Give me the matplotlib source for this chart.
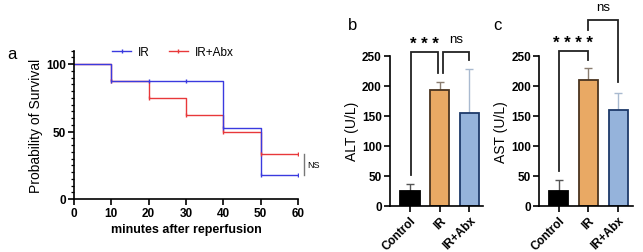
import matplotlib
matplotlib.use("Agg")
import matplotlib.pyplot as plt
from matplotlib.ticker import MultipleLocator
from matplotlib.lines import Line2D

plt.rcParams['font.family'] = ['Liberation Sans', 'DejaVu Sans']

# ---- data ----
times = [0, 10, 20, 30, 40, 50, 60]
surv_ir = [100, 87.5, 87.5, 87.5, 52.5, 17.5, 17.5]
surv_abx = [100, 87.5, 75, 62.5, 50, 33.3, 33.3]
groups = ["Control", "IR", "IR+Abx"]
alt_mean = [25, 193, 155]
alt_err = [12, 13, 73]
ast_mean = [24, 210, 159]
ast_err = [19, 19, 29]

W, H = 643, 253
fig = plt.figure(figsize=(W / 100, H / 100), dpi=100)

def fr(l, t, r, b):
    return [l / W, 1 - b / H, (r - l) / W, (b - t) / H]

BLUE = '#3a3adf'
RED = '#e8383a'

# ---- panel a ----
ax = fig.add_axes(fr(74, 51.5, 298, 200))
ax.step(times, surv_abx, where='post', color=RED, lw=1.0)
ax.step(times, surv_ir, where='post', color=BLUE, lw=1.0)
ax.plot(times[1:], surv_abx[1:], ls='none', marker='|', ms=3, mew=1.0, color=RED)
ax.plot(times[1:], surv_ir[1:], ls='none', marker='|', ms=3, mew=1.0, color=BLUE)
ax.set_xlim(0, 60)
ax.set_ylim(0, 110)
ax.set_xticks(times)
ax.set_yticks([0, 50, 100])
ax.yaxis.set_minor_locator(MultipleLocator(5))
for s in ['top', 'right']:
    ax.spines[s].set_visible(False)
for s in ['left', 'bottom']:
    ax.spines[s].set_linewidth(1.2)
ax.tick_params(axis='both', which='major', length=4, width=1.2, labelsize=8.5, pad=2)
ax.tick_params(axis='y', which='minor', length=2, width=0.9)
for lab in ax.get_xticklabels() + ax.get_yticklabels():
    lab.set_fontweight('bold')
ax.set_xlabel('minutes after reperfusion', fontsize=9, fontweight='bold', labelpad=3)
ax.set_ylabel('Probability of Survival', fontsize=10, labelpad=2)
handles = [Line2D([0], [0], color=BLUE, lw=1.0, marker='|', ms=3),
           Line2D([0], [0], color=RED, lw=1.0, marker='|', ms=3)]
ax.legend(handles, ['IR', 'IR+Abx'], ncol=2, frameon=False, fontsize=8.5,
          loc='center left', bbox_to_anchor=(0.17, 0.99), handlelength=1.6,
          handletextpad=0.6, columnspacing=1.6, borderpad=0, borderaxespad=0)
# NS bracket
ax.plot([61.5, 61.5], [surv_abx[-1], surv_ir[-1]], color='#777777', lw=1.0, clip_on=False)
ax.text(62.5, (surv_abx[-1] + surv_ir[-1]) / 2, 'NS', fontsize=6.5, va='center', ha='left')

fig.text(12 / W, 1 - 55 / H, 'a', fontsize=12, ha='center', va='center')
fig.text(353 / W, 1 - 25 / H, 'b', fontsize=12, ha='center', va='center')
fig.text(497 / W, 1 - 25 / H, 'c', fontsize=12, ha='center', va='center')

fills = ['#000000', '#E9A964', '#95B3DB']
edges = ['#000000', '#4a3420', '#1e3a6a']
errc = ['#555555', '#8a7d70', '#a9bad0']


def bar_panel(box, means, errs, ylabel, xlim):
    a = fig.add_axes(fr(*box))
    x = list(range(len(groups)))
    a.bar(x, means, width=0.64, color=fills, edgecolor=edges, linewidth=1.3, zorder=2)
    for i in x:
        a.errorbar(i, means[i], yerr=[[0], [errs[i]]], color=errc[i], capsize=3,
                   elinewidth=1.0, capthick=1.0, zorder=1)
    a.set_xlim(*xlim)
    a.set_ylim(0, 250)
    a.set_yticks([0, 50, 100, 150, 200, 250])
    a.set_xticks(x)
    a.set_xticklabels(groups, rotation=45, ha='right', rotation_mode='anchor',
                      fontsize=8, fontweight='bold')
    for lab in a.get_yticklabels():
        lab.set_fontweight('bold')
    a.tick_params(axis='both', length=4, width=1.2, labelsize=8.5, pad=2)
    for s in ['top', 'right']:
        a.spines[s].set_visible(False)
    for s in ['left', 'bottom']:
        a.spines[s].set_linewidth(1.2)
    a.set_ylabel(ylabel, fontsize=10, labelpad=2)
    return a


def bracket(a, x1, x2, y1, y2, ytop, text, ty, fs, fw='normal'):
    a.plot([x1, x1, x2, x2], [y1, ytop, ytop, y2], color='#222222', lw=1.3,
           clip_on=False, solid_joinstyle='miter')
    a.text((x1 + x2) / 2, ty, text, ha='center', va='center', fontsize=fs,
           fontweight=fw, clip_on=False)


ab = bar_panel((390, 56.7, 483, 206.7), alt_mean, alt_err, 'ALT (U/L)', (-0.672, 2.454))
bracket(ab, 0.02, 0.95, 52, 222, 257, '* * *', 271, 12, 'bold')
bracket(ab, 1.1, 2.0, 222, 243, 257, 'ns', 278, 9.5)

ac = bar_panel((539.3, 56.7, 633, 206.7), ast_mean, ast_err, 'AST (U/L)', (-0.645, 2.5))
bracket(ac, 0.0, 1.0, 58, 243, 258, '* * * *', 272, 12, 'bold')
bracket(ac, 0.99, 2.0, 293, 206, 310, 'ns', 331, 9.5)

fig.savefig('out.png', dpi=100)
